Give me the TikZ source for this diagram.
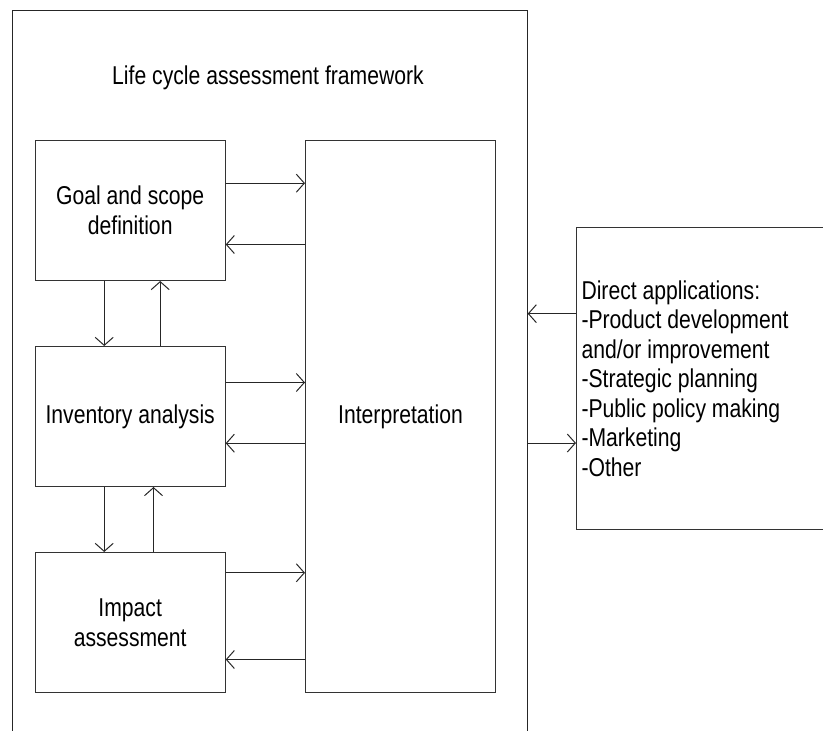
\documentclass[tikz,border=0pt]{standalone}
\usepackage{fontspec}
\setmainfont[FakeStretch=0.82]{Liberation Sans}
\usepackage{tikz}
\usetikzlibrary{arrows.meta,positioning}

\begin{document}
\begin{tikzpicture}[
  x=1pt, y=-1pt,
  every node/.style={font=\fontsize{25.8}{29.5}\selectfont, text=black},
  frame/.style={draw=black!85, line width=1pt, inner sep=0pt},
  stage/.style={draw=black!80, line width=1pt, minimum width=190pt,
                minimum height=140pt, align=center, inner sep=2pt},
  arr/.style={-{Straight Barb[length=8pt,width=18pt]}, line width=1pt, draw=black!85},
]
\useasboundingbox (0,0) rectangle (823,731);

%% ---- Outer frame (open at the bottom edge) ----
\node[frame, anchor=north west, minimum width=514.7pt, minimum height=780pt]
  (lca) at (12,10) {};
\node (title) at (268,78) {Life cycle assessment framework};

%% ---- Phases ----
\node[stage, anchor=north west] (goal) at (34.7,140) {Goal and scope\\definition};
\node[stage, anchor=north west] (inv)  at (34.7,346) {Inventory analysis};
\node[stage, anchor=north west] (imp)  at (34.7,552) {Impact\\assessment};
\node[stage, anchor=north west, minimum height=552pt] (interp) at (305,140)
  {Interpretation};

%% ---- Applications (right side runs off the page) ----
\node[frame, draw=black!80, anchor=north west, minimum width=300pt,
      minimum height=302.3pt, text width=290pt, inner xsep=5pt, align=flush left]
  (app) at (576,226.7)
  {Direct applications:\\-Product development\\and/or improvement\\
   -Strategic planning\\-Public policy making\\-Marketing\\-Other};

%% ---- Phase <-> interpretation ----
\draw[arr] ([yshift=27.3pt]goal.east) -- ([yshift=27.3pt]goal.east -| interp.west);
\draw[arr] ([yshift=-34pt]goal.east -| interp.west) -- ([yshift=-34pt]goal.east);
\draw[arr] ([yshift=34pt]inv.east) -- ([yshift=34pt]inv.east -| interp.west);
\draw[arr] ([yshift=-26.7pt]inv.east -| interp.west) -- ([yshift=-26.7pt]inv.east);
\draw[arr] ([yshift=49.7pt]imp.east) -- ([yshift=49.7pt]imp.east -| interp.west);
\draw[arr] ([yshift=-37pt]imp.east -| interp.west) -- ([yshift=-37pt]imp.east);

%% ---- Between phases ----
\draw[arr] ([xshift=-26pt]goal.south) -- ([xshift=-26pt]goal.south |- inv.north);
\draw[arr] ([xshift=30pt]goal.south |- inv.north) -- ([xshift=30pt]goal.south);
\draw[arr] ([xshift=-26pt]inv.south) -- ([xshift=-26pt]inv.south |- imp.north);
\draw[arr] ([xshift=23.3pt]inv.south |- imp.north) -- ([xshift=23.3pt]inv.south);

%% ---- Framework <-> applications ----
\draw[arr] ([yshift=64.7pt]app.west) -- ([yshift=64.7pt]app.west -| lca.east);
\draw[arr] ([yshift=-64.7pt]app.west -| lca.east) -- ([yshift=-64.7pt]app.west);

\end{tikzpicture}
\end{document}
